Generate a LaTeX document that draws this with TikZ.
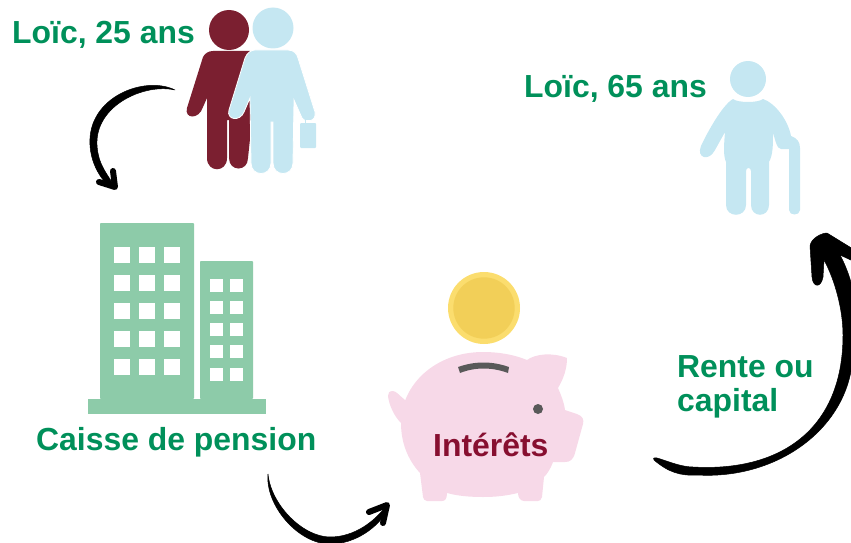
\documentclass[tikz,border=0pt]{standalone}
\usepackage{fontspec}
\setmainfont{Liberation Sans}
\definecolor{vert}{HTML}{00905A}
\definecolor{vertclair}{HTML}{8DCBA9}
\definecolor{bordeaux}{HTML}{7B1F30}
\definecolor{bleuclair}{HTML}{C5E7F2}
\definecolor{rose}{HTML}{F7D9E8}
\definecolor{lie}{HTML}{870F30}
\definecolor{ordclair}{HTML}{FBDD6E}
\definecolor{orfonce}{HTML}{F2CF58}
\definecolor{gris}{HTML}{595959}
\tikzset{
  legende/.style={anchor=base west, inner sep=0pt, text=vert, font=\fontsize{31.9}{34}\selectfont\bfseries},
  fenetre/.style={fill=white},
  immeuble/.style={fill=vertclair, rounded corners=0.8pt},
  pinceau/.style={fill=black, draw=black, line width=0.5pt, line join=round},
  barbe/.style={draw=black, line width=6pt, line cap=round, line join=round}
}

\begin{document}
\begin{tikzpicture}[x=1pt, y=-1pt]
\useasboundingbox (0,0) rectangle (851,543);
%%% textes %%%

      \node[legende] (loicjeune) at (12,44) {Loïc, 25 ans};
      \node[legende] (loicvieux) at (524,97) {Loïc, 65 ans};
      \node[legende] (caisse) at (36,450) {Caisse de pension};
      \node[legende] (rente) at (677,377) {Rente ou};
      \node[legende] (capital) at (677,411) {capital};

%%% personne bordeaux %%%
      \fill[bordeaux] (229,30) circle (20);
      \fill[bordeaux] (213,51) -- (250,51) -- (252,120) -- (248,158)
        .. controls (248,172) and (229,172) .. (229,158) -- (229,120) -- (227,120) -- (227,158)
        .. controls (227,173) and (207,173) .. (207,158) -- (207,98) -- (203,107)
        .. controls (199,120) and (184,119) .. (187,108) -- (203,57)
        .. controls (205,53) and (209,51) .. (213,51) -- cycle;

%%% personne bleue %%%
      \fill[bleuclair] (273,28) circle (20.5);
      \filldraw[fill=bleuclair, draw=white, line width=0.8pt] (255,50) -- (288,50)
        .. controls (294,50) and (297,54) .. (298,58) -- (315,112)
        .. controls (317,122) and (305,123) .. (302,118) -- (294,100) -- (293,163)
        .. controls (293,177) and (273,177) .. (273,163) -- (273,122) -- (271,122) -- (271,163)
        .. controls (271,177) and (251,177) .. (251,163) -- (250,98) -- (244,112)
        .. controls (240,122) and (226,120) .. (229,110) -- (245,58)
        .. controls (247,53) and (251,50) .. (255,50) -- cycle;
      \fill[bleuclair, rounded corners=1pt] (300,123) rectangle (316,148);
      \draw[bleuclair, line width=0.8pt] (305,118) -- (305,124);

%%% personne agee %%%
      \fill[bleuclair] (748,79) circle (18);
      \fill[bleuclair] (733,99) .. controls (738,103) and (758,103) .. (763,99)
        .. controls (775,103) and (788,120) .. (791,136)
        .. controls (797,138) and (800,142) .. (800,148) -- (800,210)
        .. controls (800,216) and (789,216) .. (789,210) -- (789,149) -- (781,149)
        .. controls (777,149) and (775,140) .. (773,132)
        .. controls (773,145) and (773,155) .. (769,162) -- (769,205)
        .. controls (769,218) and (751,218) .. (751,205) -- (751,171)
        .. controls (751,167) and (746,167) .. (746,171) -- (746,205)
        .. controls (746,218) and (726,218) .. (726,205) -- (726,162)
        .. controls (723,155) and (724,145) .. (725,132) -- (715,150)
        .. controls (709,162) and (696,158) .. (701,146)
        .. controls (706,135) and (722,105) .. (733,99) -- cycle;

%%% caisse de pension %%%
      \fill[immeuble] (100,223) rectangle (194,399);
      \fill[immeuble] (200,261) rectangle (253,399);
      \fill[vertclair] (88,399) rectangle (266,414);
      \foreach \fy in {247,275,303,331,359}
        \foreach \fx in {114,139,164}
          \fill[fenetre] (\fx,\fy) rectangle +(16,16);
      \foreach \fy in {279,301,323,345,368}
        \foreach \fx in {210,230}
          \fill[fenetre] (\fx,\fy) rectangle +(13,12.5);

%%% cochon et piece %%%
      \fill[ordclair] (484,308) circle (36);
      \fill[orfonce] (484,308) circle (30.7);
      \fill[rose] (401,423) .. controls (401,385) and (435,352) .. (483,352)
        .. controls (500,352) and (515,355) .. (527,360)
        .. controls (535,354) and (552,352) .. (567,358)
        .. controls (567,368) and (564,378) .. (558,388)
        .. controls (561,395) and (564,402) .. (565,410) -- (577,414)
        .. controls (583,416) and (584,420) .. (583,424) -- (575,453)
        .. controls (573,460) and (570,462) .. (565,462) -- (553,462)
        .. controls (550,470) and (547,474) .. (544,477) -- (542,497)
        .. controls (541,500) and (540,501) .. (538,501) -- (524,501)
        .. controls (520,501) and (518,497) .. (518,493)
        .. controls (505,496) and (495,497) .. (483,497)
        .. controls (470,497) and (458,496) .. (447,493)
        .. controls (447,499) and (445,501) .. (442,501) -- (427,501)
        .. controls (425,501) and (423,499) .. (423,497) -- (420,473)
        .. controls (408,460) and (401,443) .. (401,423) -- cycle;
      \fill[rose] (405,400) .. controls (400,396) and (396,391) .. (393,391)
        .. controls (389,391) and (388,393) .. (388,396)
        .. controls (389,405) and (394,416) .. (401,423) -- (410,410) -- cycle;
      \fill[gris] (458,367) .. controls (475,361) and (492,361) .. (509,367) -- (508,373)
        .. controls (492,367) and (475,367) .. (460,373) -- cycle;
      \fill[gris] (538,409) circle (5);
      \node[legende, text=lie] (interets) at (433,456) {Intérêts};

%%% fleches %%%
      \coordinate (departA) at (175,90);
      \coordinate (pointeA) at (115,187);
      \coordinate (departB) at (268,474);
      \coordinate (pointeB) at (387,505);
      \coordinate (departC) at (654,460);
      \coordinate (pointeC) at (822,233);

      \fill[pinceau] (departA) .. controls (145,75) and (87,97) .. (90,145)
        .. controls (91,165) and (102,181) .. (112,189) -- (pointeA)
        .. controls (108,175) and (98,165) .. (97,145)
        .. controls (95,105) and (145,83) .. (departA) -- cycle;
      \draw[barbe] (99,182) -- (pointeA) -- (113,171);

      \fill[pinceau] (departB) .. controls (265,505) and (298,544) .. (330,544)
        .. controls (355,544) and (378,528) .. (389,508) -- (pointeB)
        .. controls (375,521) and (355,537) .. (330,537)
        .. controls (303,537) and (271,505) .. (departB) -- cycle;
      \draw[barbe] (369,512) -- (pointeB) -- (383,523);

      \fill[pinceau] (departC) .. controls (668,472) and (680,476) .. (697,475)
        .. controls (780,480) and (853,425) .. (853,350)
        .. controls (860,320) and (856,285) .. (840,255)
        -- (853,261) -- (853,249) -- (827,233)
        .. controls (pointeC) and (811,238) .. (810,246)
        -- (812,277) .. controls (813,288) and (821,288) .. (823,277)
        -- (824,260)
        .. controls (835,280) and (843,310) .. (843,335)
        .. controls (843,430) and (780,472) .. (693,467)
        .. controls (680,467) and (665,460) .. (657,458)
        .. controls (654,457) and (652,459) .. (departC) -- cycle;

\end{tikzpicture}
\end{document}
